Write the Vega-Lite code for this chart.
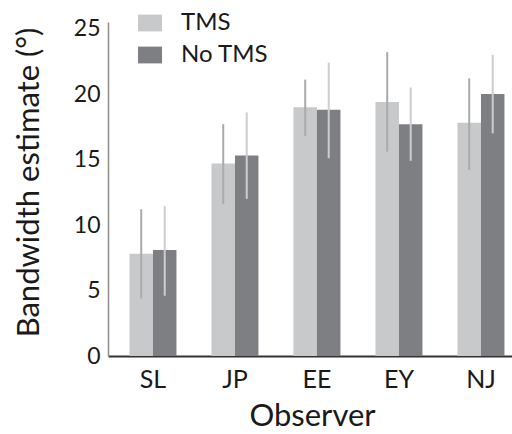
{
  "$schema": "https://vega.github.io/schema/vega-lite/v6.json",
  "autosize": {"type": "none"},
  "width": 404,
  "height": 334,
  "padding": {"left": 108, "top": 22, "right": 0, "bottom": 78},
  "background": "white",
  "config": {
    "font": "Lato",
    "view": {"stroke": null}
  },
  "data": {
    "values": [
      {"observer": "SL", "condition": "TMS", "value": 7.8, "lo": 4.4, "hi": 11.2},
      {"observer": "SL", "condition": "No TMS", "value": 8.1, "lo": 4.6, "hi": 11.45},
      {"observer": "JP", "condition": "TMS", "value": 14.7, "lo": 11.6, "hi": 17.7},
      {"observer": "JP", "condition": "No TMS", "value": 15.3, "lo": 12.0, "hi": 18.6},
      {"observer": "EE", "condition": "TMS", "value": 19.0, "lo": 16.8, "hi": 21.1},
      {"observer": "EE", "condition": "No TMS", "value": 18.8, "lo": 15.1, "hi": 22.4},
      {"observer": "EY", "condition": "TMS", "value": 19.4, "lo": 15.6, "hi": 23.2},
      {"observer": "EY", "condition": "No TMS", "value": 17.7, "lo": 14.9, "hi": 20.5},
      {"observer": "NJ", "condition": "TMS", "value": 17.8, "lo": 14.2, "hi": 21.2},
      {"observer": "NJ", "condition": "No TMS", "value": 20.0, "lo": 17.0, "hi": 23.0}
    ]
  },
  "encoding": {
    "x": {
      "field": "observer",
      "type": "nominal",
      "sort": ["SL", "JP", "EE", "EY", "NJ"],
      "scale": {"paddingInner": 0.427, "paddingOuter": 0.177, "align": 0.74},
      "axis": {
        "title": "Observer",
        "titleFontSize": 31,
        "titleFontWeight": "normal",
        "titleColor": "#1a1a1a",
        "titleX": 204,
        "titleY": 69,
        "titleBaseline": "alphabetic",
        "titleAnchor": null,
        "labelAngle": 0,
        "labelFontSize": 25,
        "labelColor": "#1a1a1a",
        "labelPadding": 11,
        "ticks": false,
        "domainColor": "#333333",
        "domainWidth": 2
      }
    },
    "xOffset": {
      "field": "condition",
      "type": "nominal",
      "sort": ["TMS", "No TMS"],
      "scale": {"paddingInner": 0, "paddingOuter": 0}
    }
  },
  "layer": [
    {
      "mark": {"type": "bar"},
      "encoding": {
        "y": {
          "field": "value",
          "type": "quantitative",
          "scale": {"domain": [0, 25.5], "nice": false},
          "axis": {
            "title": "Bandwidth estimate (°)",
            "titleFontSize": 31,
            "titleFontWeight": "normal",
            "titleColor": "#1a1a1a",
            "titleAngle": -90,
            "titleX": -79,
            "titleY": 160,
            "titleAlign": "center",
            "titleBaseline": "middle",
            "values": [0, 5, 10, 15, 20, 25],
            "labelFontSize": 23,
            "labelColor": "#1a1a1a",
            "labelPadding": 8,
            "ticks": false,
            "grid": false,
            "domainColor": "#8c8c8c",
            "domainWidth": 1.5
          }
        },
        "color": {
          "field": "condition",
          "type": "nominal",
          "sort": ["TMS", "No TMS"],
          "scale": {"domain": ["TMS", "No TMS"], "range": ["#c8c9cb", "#7e7f83"]},
          "legend": {
            "title": null,
            "orient": "none",
            "legendX": 30,
            "legendY": -11,
            "symbolType": "M-1,-0.7H1V0.7H-1Z",
            "symbolSize": 576,
            "symbolStrokeWidth": 0,
            "labelFontSize": 24,
            "labelColor": "#1a1a1a",
            "labelOffset": 19,
            "rowPadding": 8,
            "padding": 0
          }
        }
      }
    },
    {
      "mark": {"type": "rule", "strokeWidth": 2},
      "encoding": {
        "y": {"field": "lo", "type": "quantitative"},
        "y2": {"field": "hi"},
        "stroke": {
          "field": "condition",
          "type": "nominal",
          "scale": {"domain": ["TMS", "No TMS"], "range": ["#a9aaac", "#cdcdcf"]},
          "legend": null
        }
      }
    }
  ]
}
